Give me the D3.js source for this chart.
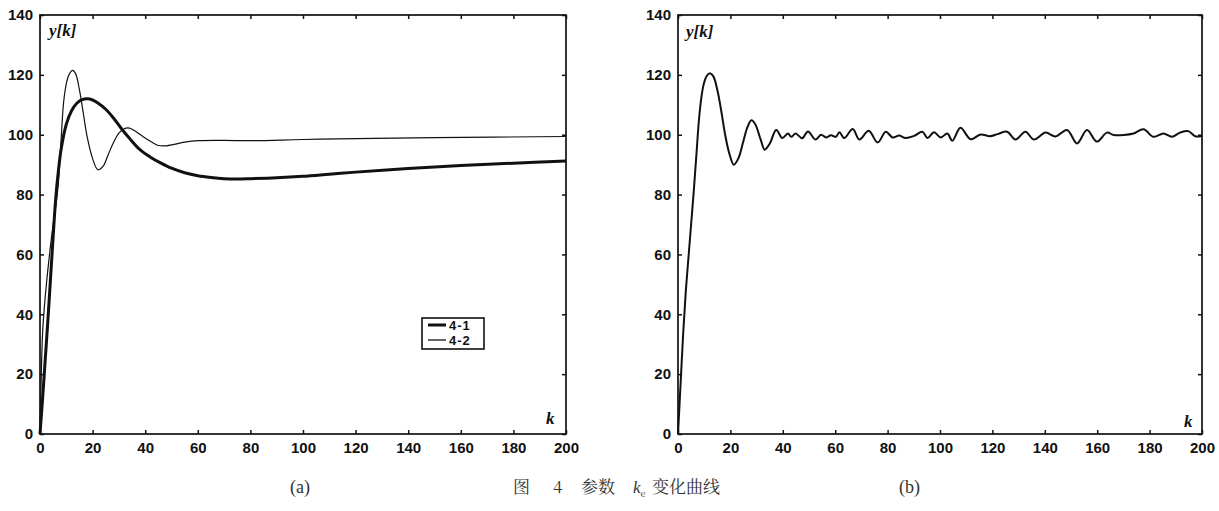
<!DOCTYPE html>
<html><head><meta charset="utf-8">
<script src="https://cdn.jsdelivr.net/npm/d3@7"></script>
<style>
body{margin:0;background:#fff;}
svg{display:block;}
.tick-label{font-family:"Liberation Sans",Arial,sans-serif;font-weight:bold;font-size:15px;fill:#111;}
.var{font-family:"Liberation Serif","Times New Roman",serif;font-weight:bold;font-style:italic;font-size:17px;fill:#111;}
.cap{font-family:"Noto Serif CJK SC","Noto Sans CJK SC",serif;font-size:17px;fill:#333;}
</style></head>
<body><svg id="c" width="1219" height="511"></svg>
<script>
const kTicks = [0,20,40,60,80,100,120,140,160,180,200];
const yTicks = [0,20,40,60,80,100,120,140];
const legendLabels = ["4-1","4-2"];

// (a) series 4-1 (thick)
const seriesA41 = [[0,0],[1,12],[2,25],[3,38],[4,52],[5,66],[6,79],[7,88],[8,95],[10,103.5],[12,108],[14,110.5],[16,111.7],[18,112],[20,111.6],[22,110.6],[25,108.5],[28,105.5],[31,102],[34,98.8],[38,95],[42,92.5],[46,90.5],[50,88.8],[55,87.3],[60,86.3],[65,85.7],[70,85.3],[75,85.2],[80,85.3],[90,85.6],[100,86.1],[110,86.8],[120,87.5],[140,88.7],[160,89.7],[180,90.5],[200,91.2]];
// (a) series 4-2 (thin)
const seriesA42 = [[0,0],[0.5,20],[1,34],[2,46],[3,55],[4,63],[5,70],[6,76],[7,84],[8,98],[9,111],[10,117],[11,120],[12.4,121.5],[13.5,120.5],[15,115],[16.5,107],[18,99],[20,92],[22,88.3],[24,89.5],[26,93.5],[28,97.5],[30,100.5],[32,102],[34,102.2],[36,101.3],[39,99.5],[42,97.8],[45,96.4],[48,96.3],[51,96.8],[55,97.5],[60,98],[70,98.1],[80,98],[100,98.4],[120,98.7],[150,99],[200,99.4]];
// (b) series
const seriesB = [[0,0],[1,17],[2,34],[3,48],[4,59],[5,70],[6,81],[7,93],[8,105],[9,113],[10,117.5],[11,119.7],[12.2,120.5],[13.5,119.5],[15,115],[16.5,108],[18,100],[19.5,94],[21.3,90],[23,92],[25,98],[26.5,102.5],[28,104.8],[29.5,103.5],[31.5,98.5],[33.1,95],[35,97],[37.5,101.6],[39.8,98.9],[42,100.4],[43.2,99.3],[44.9,100.4],[47.4,98.8],[49.6,101.1],[52.5,98.4],[54.6,100],[56.5,99.1],[58.4,99.8],[60.3,99.3],[61.6,100.8],[63.5,98.9],[66.7,101.9],[69.2,98.4],[72.8,101.3],[76.2,97.4],[79.3,101],[81.9,99.1],[84.4,99.7],[86.9,98.9],[90.1,99.6],[93.3,101],[95.2,98.9],[97.7,100.8],[100.3,99.1],[102.8,100.4],[104.7,98],[107.8,102.3],[111.7,98.5],[115.5,100.1],[119,99.5],[122,100.2],[125.6,101],[128.8,98.4],[132.6,101],[135.8,98.4],[140.3,100.7],[144.1,99.4],[148.5,101.6],[152.3,97.1],[156.1,101.6],[159.9,97.7],[163.7,100.7],[166.3,99.9],[170.1,99.9],[173.9,100.4],[177.7,101.8],[181.5,99.3],[185.3,100.4],[188.5,99.3],[191.6,100.7],[194.8,101.2],[197.4,99.5],[200,99.6]];

const svg = d3.select("#c");
svg.append("rect").attr("width",1219).attr("height",511).attr("fill","#fff");

function panel(left, right, top, bottom) {
  const x = d3.scaleLinear().domain([0,200]).range([left,right]);
  const y = d3.scaleLinear().domain([0,140]).range([bottom,top]);
  const g = svg.append("g");
  const tl = 4;
  g.append("rect").attr("x",left).attr("y",top).attr("width",right-left).attr("height",bottom-top)
    .attr("fill","none").attr("stroke","#111").attr("stroke-width",1.7);
  const axB = d3.axisBottom(x).tickValues(kTicks).tickSize(-tl).tickFormat(d=>d).tickPadding(8);
  const axT = d3.axisTop(x).tickValues(kTicks).tickSize(-tl).tickFormat("");
  const axL = d3.axisLeft(y).tickValues(yTicks).tickSize(-tl).tickFormat(d=>d).tickPadding(7);
  const axR = d3.axisRight(y).tickValues(yTicks).tickSize(-tl).tickFormat("");
  [[axB,`translate(0,${bottom})`],[axT,`translate(0,${top})`],[axL,`translate(${left},0)`],[axR,`translate(${right},0)`]].forEach(([a,t])=>{
    const s = g.append("g").attr("transform",t).call(a);
    s.select(".domain").remove();
    s.selectAll(".tick line").attr("stroke","#111").attr("stroke-width",1.5);
    s.selectAll(".tick text").attr("class","tick-label").attr("fill",null);
  });
  return {x,y,g};
}

const pa = panel(40, 566, 15, 434);
const pb = panel(678, 1202, 15, 434);

const lineGen = (p)=> d3.line().x(d=>p.x(d[0])).y(d=>p.y(d[1])).curve(d3.curveCatmullRom.alpha(0.5));

pa.g.append("path").datum(seriesA42).attr("d",lineGen(pa)).attr("fill","none").attr("stroke","#111").attr("stroke-width",1.2);
pa.g.append("path").datum(seriesA41).attr("d",lineGen(pa)).attr("fill","none").attr("stroke","#111").attr("stroke-width",3);
pb.g.append("path").datum(seriesB).attr("d",lineGen(pb)).attr("fill","none").attr("stroke","#111").attr("stroke-width",2);

pa.g.append("text").attr("class","var").attr("x",49).attr("y",36).text("y[k]");
pb.g.append("text").attr("class","var").attr("x",686).attr("y",37).text("y[k]");
pa.g.append("text").attr("class","var").attr("x",546).attr("y",424).text("k");
pb.g.append("text").attr("class","var").attr("x",1184).attr("y",427).text("k");

// legend
const lg = pa.g.append("g");
lg.append("rect").attr("x",422).attr("y",318).attr("width",62).attr("height",31).attr("fill","#fff").attr("stroke","#111").attr("stroke-width",1.6);
const lw = [3,1.3];
legendLabels.forEach((t,i)=>{
  const yy = 325 + i*15;
  lg.append("line").attr("x1",428).attr("x2",446).attr("y1",yy).attr("y2",yy).attr("stroke","#111").attr("stroke-width",lw[i]);
  lg.append("text").attr("class","tick-label").attr("x",449).attr("y",yy+4.5).attr("letter-spacing","1").style("font-size","13px").text(t);
});

// captions
svg.append("text").attr("class","cap").attr("x",290).attr("y",493).style("font-family","'Liberation Serif',serif").style("font-size","18px").text("(a)");
svg.append("text").attr("class","cap").attr("x",899).attr("y",493).style("font-family","'Liberation Serif',serif").style("font-size","18px").text("(b)");
const capG = svg.append("g").attr("class","capg");
capG.append("text").attr("class","cap").attr("x",513).attr("y",493).text("图");
capG.append("text").attr("class","cap").attr("x",553).attr("y",493).text("4");
capG.append("text").attr("class","cap").attr("x",581).attr("y",493).text("参数");
const ke = capG.append("text").attr("class","cap").attr("x",633).attr("y",493);
ke.append("tspan").style("font-family","'Liberation Serif',serif").style("font-style","italic").text("k");
ke.append("tspan").attr("dy",4).style("font-size","9px").text("e");
capG.append("text").attr("class","cap").attr("x",652).attr("y",493).text("变化曲线");
</script></body></html>
